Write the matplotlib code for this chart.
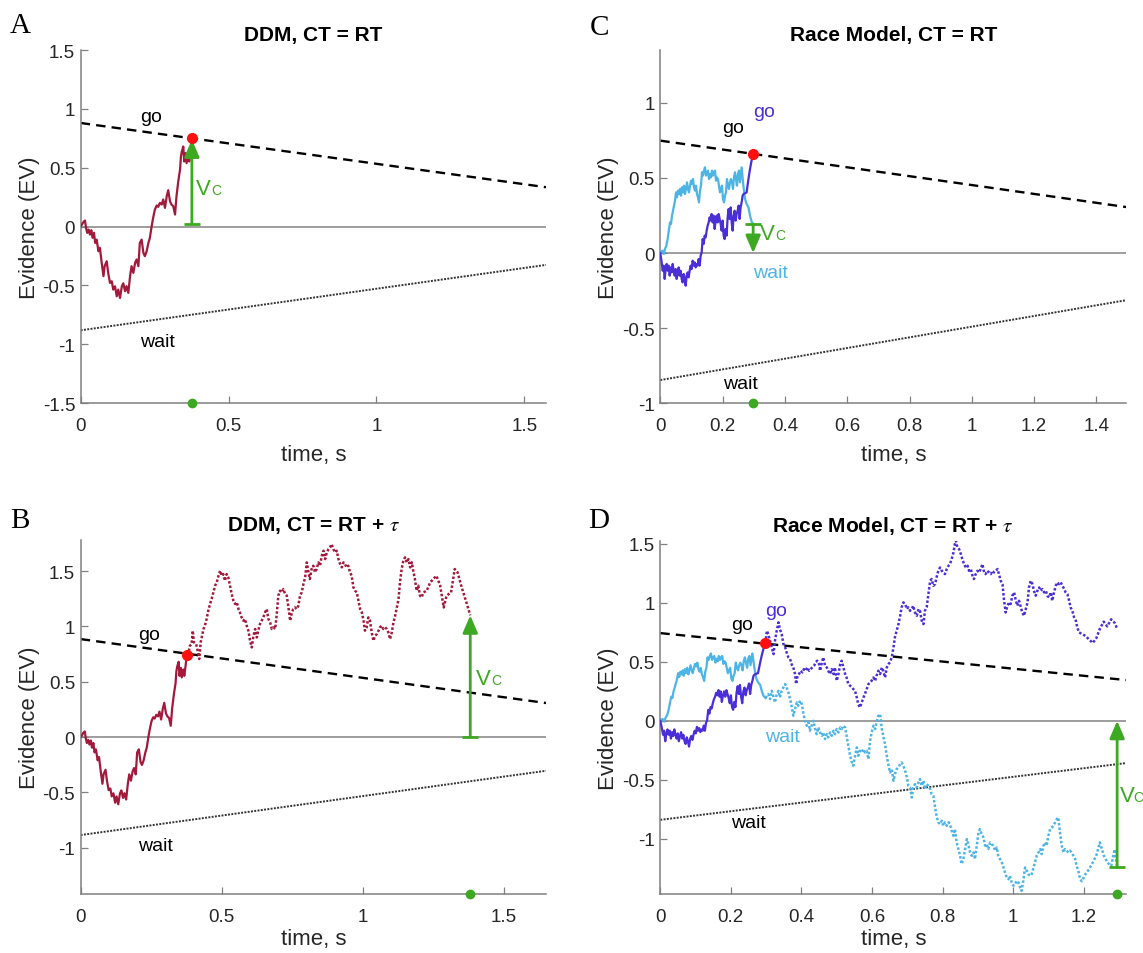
import numpy as np
import matplotlib
matplotlib.use('Agg')
import matplotlib.pyplot as plt

plt.rcParams['font.family'] = ['Liberation Sans', 'DejaVu Sans']
plt.rcParams['mathtext.fontset'] = 'stix'

# ---- data (time s, evidence) ----
# DDM accumulator up to the go crossing (shared by A and B)
ddm_pts = [(0, 0), (0.009, 0.037), (0.0145, 0.051), (0.018, -0.011), (0.022, -0.054), (0.027, -0.026),
           (0.031, -0.068), (0.036, -0.031), (0.040, -0.096), (0.045, -0.054), (0.049, -0.139), (0.054, -0.111),
           (0.060, -0.210), (0.065, -0.181), (0.071, -0.309), (0.077, -0.422), (0.081, -0.337), (0.088, -0.295),
           (0.093, -0.394), (0.099, -0.479), (0.105, -0.465), (0.110, -0.536), (0.116, -0.508), (0.122, -0.593),
           (0.127, -0.536), (0.133, -0.607), (0.139, -0.510), (0.144, -0.482), (0.150, -0.550), (0.155, -0.507),
           (0.161, -0.564), (0.167, -0.422), (0.172, -0.337), (0.178, -0.394), (0.184, -0.309), (0.189, -0.280),
           (0.195, -0.337), (0.200, -0.139), (0.206, -0.111), (0.212, -0.224), (0.217, -0.252), (0.223, -0.210),
           (0.229, -0.139), (0.234, -0.096), (0.240, 0.003), (0.245, 0.074), (0.251, 0.145), (0.257, 0.179),
           (0.262, 0.167), (0.268, 0.201), (0.274, 0.187), (0.279, 0.230), (0.285, 0.159), (0.291, 0.258),
           (0.296, 0.309), (0.302, 0.215), (0.307, 0.187), (0.313, 0.173), (0.319, 0.102), (0.324, 0.258),
           (0.330, 0.385), (0.336, 0.485), (0.339, 0.595), (0.342, 0.638), (0.347, 0.680), (0.350, 0.553),
           (0.355, 0.624), (0.358, 0.539), (0.364, 0.610), (0.367, 0.553), (0.372, 0.652), (0.376, 0.750)]

# DDM accumulator after the crossing, until commitment (B, dotted)
ddm_tau_pts = [(0.381, 0.750), (0.387, 0.825), (0.393, 0.840), (0.397, 0.961), (0.401, 0.855), (0.409, 0.840),
               (0.413, 0.795), (0.420, 0.705), (0.425, 0.855), (0.430, 0.915), (0.435, 0.976), (0.440, 1.006),
               (0.446, 1.066), (0.452, 1.141), (0.458, 1.202), (0.464, 1.247), (0.470, 1.307), (0.476, 1.367),
               (0.482, 1.397), (0.488, 1.457), (0.494, 1.503), (0.500, 1.457), (0.505, 1.472), (0.511, 1.412),
               (0.517, 1.472), (0.523, 1.442), (0.529, 1.367), (0.535, 1.292), (0.541, 1.232), (0.547, 1.202),
               (0.553, 1.217), (0.559, 1.156), (0.564, 1.126), (0.570, 1.081), (0.576, 1.051), (0.582, 1.066),
               (0.588, 1.006), (0.594, 0.961), (0.600, 0.870), (0.606, 0.810), (0.612, 0.915), (0.618, 0.976),
               (0.624, 0.900), (0.629, 0.961), (0.635, 1.021), (0.641, 1.051), (0.647, 1.081), (0.653, 1.126),
               (0.659, 1.156), (0.665, 1.066), (0.671, 1.036), (0.677, 0.976), (0.683, 0.991), (0.689, 0.976),
               (0.694, 1.096), (0.700, 1.277), (0.706, 1.322), (0.712, 1.307), (0.718, 1.337), (0.724, 1.292),
               (0.730, 1.277), (0.736, 1.171), (0.742, 1.051), (0.748, 1.126), (0.753, 1.156), (0.759, 1.171),
               (0.765, 1.156), (0.771, 1.186), (0.777, 1.277), (0.783, 1.307), (0.789, 1.382), (0.795, 1.442),
               (0.801, 1.578), (0.807, 1.488), (0.812, 1.427), (0.818, 1.518), (0.824, 1.548), (0.830, 1.488),
               (0.836, 1.518), (0.842, 1.578), (0.848, 1.548), (0.854, 1.638), (0.860, 1.683), (0.866, 1.608),
               (0.872, 1.668), (0.878, 1.698), (0.883, 1.713), (0.889, 1.743), (0.895, 1.698), (0.901, 1.668),
               (0.907, 1.683), (0.913, 1.608), (0.919, 1.563), (0.925, 1.533), (0.931, 1.578), (0.936, 1.563),
               (0.942, 1.533), (0.948, 1.548), (0.954, 1.488), (0.960, 1.457), (0.966, 1.352), (0.972, 1.322),
               (0.978, 1.307), (0.984, 1.232), (0.990, 1.156), (0.996, 1.126), (1.002, 1.051), (1.007, 0.961),
               (1.013, 0.991), (1.019, 1.081), (1.025, 1.051), (1.031, 0.945), (1.037, 0.870), (1.043, 0.915),
               (1.049, 0.930), (1.055, 0.961), (1.060, 0.991), (1.066, 1.006), (1.072, 0.976), (1.078, 0.991),
               (1.084, 0.976), (1.090, 0.945), (1.096, 0.885), (1.102, 0.945), (1.108, 1.036), (1.114, 1.096),
               (1.120, 1.171), (1.126, 1.247), (1.131, 1.397), (1.137, 1.518), (1.143, 1.593), (1.149, 1.623),
               (1.155, 1.578), (1.161, 1.608), (1.167, 1.533), (1.173, 1.578), (1.179, 1.488), (1.184, 1.427),
               (1.190, 1.322), (1.196, 1.367), (1.202, 1.277), (1.208, 1.262), (1.214, 1.307), (1.226, 1.322),
               (1.238, 1.397), (1.260, 1.457), (1.273, 1.373), (1.286, 1.171), (1.296, 1.277), (1.312, 1.307),
               (1.325, 1.518), (1.335, 1.488), (1.348, 1.367), (1.361, 1.262), (1.370, 1.186), (1.380, 1.100)]

# race model: go and wait accumulators up to the go crossing (shared by C and D)
race_go_pts = [(0, 0), (0.0044, -0.062), (0.0076, -0.118), (0.0108, -0.084), (0.014, -0.173), (0.0172, -0.107),
               (0.0204, -0.073), (0.0236, -0.118), (0.0268, -0.084), (0.0301, -0.151), (0.0333, -0.096),
               (0.0365, -0.129), (0.0397, -0.073), (0.0429, -0.118), (0.0461, -0.151), (0.0493, -0.107),
               (0.0525, -0.173), (0.0557, -0.129), (0.0589, -0.096), (0.0621, -0.151), (0.0653, -0.118),
               (0.0686, -0.173), (0.0718, -0.196), (0.075, -0.14), (0.0782, -0.173), (0.0814, -0.218),
               (0.0846, -0.151), (0.0878, -0.129), (0.091, -0.162), (0.0942, -0.118), (0.0974, -0.084),
               (0.1006, -0.107), (0.1038, -0.051), (0.1071, -0.084), (0.1103, -0.062), (0.1135, -0.096),
               (0.1167, -0.073), (0.1199, -0.084), (0.1231, -0.04), (0.1263, -0.084), (0.1295, -0.018),
               (0.1327, 0.004), (0.1359, 0.093), (0.1391, 0.06), (0.1423, 0.116), (0.1456, 0.104), (0.1488, 0.149),
               (0.152, 0.182), (0.1552, 0.204), (0.1584, 0.238), (0.1616, 0.216), (0.1648, 0.26), (0.168, 0.204),
               (0.1712, 0.249), (0.1744, 0.16), (0.1776, 0.216), (0.1808, 0.249), (0.1841, 0.204), (0.1873, 0.26),
               (0.1905, 0.227), (0.1937, 0.193), (0.1969, 0.149), (0.2001, 0.216), (0.2033, 0.116), (0.2065, 0.093),
               (0.2097, 0.16), (0.2129, 0.116), (0.2161, 0.238), (0.2193, 0.293), (0.2226, 0.227), (0.2258, 0.304),
               (0.229, 0.204), (0.2322, 0.149), (0.2354, 0.249), (0.2386, 0.282), (0.2418, 0.216), (0.245, 0.26),
               (0.2482, 0.282), (0.2514, 0.316), (0.2546, 0.227), (0.2578, 0.304), (0.2611, 0.338), (0.2643, 0.382),
               (0.2675, 0.393), (0.277, 0.404), (0.283, 0.493), (0.288, 0.56), (0.293, 0.616), (0.298, 0.658)]

race_wait_pts = [(0, 0), (0.0065, 0.016), (0.0108, -0.007), (0.0151, 0.027), (0.0194, 0.049), (0.0236, 0.093),
                 (0.0279, 0.160), (0.0311, 0.204), (0.0343, 0.193), (0.0375, 0.249), (0.0408, 0.282),
                 (0.044, 0.316), (0.0472, 0.349), (0.0504, 0.404), (0.0536, 0.371), (0.0568, 0.416), (0.06, 0.393),
                 (0.0632, 0.427), (0.0664, 0.382), (0.0696, 0.438), (0.0728, 0.404), (0.0761, 0.449),
                 (0.0793, 0.393), (0.0825, 0.427), (0.0857, 0.471), (0.0889, 0.427), (0.0921, 0.404),
                 (0.0953, 0.449), (0.0985, 0.482), (0.1017, 0.460), (0.1049, 0.493), (0.1081, 0.438),
                 (0.1113, 0.416), (0.1145, 0.449), (0.1178, 0.393), (0.121, 0.371), (0.1242, 0.338), (0.1274, 0.416),
                 (0.1306, 0.449), (0.1338, 0.538), (0.137, 0.516), (0.1402, 0.549), (0.1434, 0.571), (0.1466, 0.516),
                 (0.1498, 0.538), (0.153, 0.549), (0.1563, 0.493), (0.1595, 0.527), (0.1627, 0.504), (0.1659, 0.549),
                 (0.1691, 0.516), (0.1723, 0.538), (0.1755, 0.549), (0.1787, 0.482), (0.1819, 0.504),
                 (0.1851, 0.493), (0.1883, 0.449), (0.1915, 0.404), (0.1948, 0.427), (0.198, 0.449), (0.2012, 0.360),
                 (0.2044, 0.338), (0.2076, 0.382), (0.2108, 0.404), (0.214, 0.493), (0.2172, 0.449), (0.2204, 0.427),
                 (0.2236, 0.471), (0.2268, 0.493), (0.23, 0.471), (0.2333, 0.427), (0.2365, 0.504), (0.2397, 0.538),
                 (0.2429, 0.493), (0.2461, 0.449), (0.2493, 0.527), (0.2525, 0.549), (0.2557, 0.471), (0.261, 0.571),
                 (0.2667, 0.449), (0.272, 0.360), (0.277, 0.327), (0.283, 0.304), (0.288, 0.249), (0.293, 0.210),
                 (0.298, 0.193)]

# race model after the crossing (D, dotted)
race_go_tau_pts = [(0.302, 0.763), (0.306, 0.735), (0.311, 0.678), (0.316, 0.622), (0.321, 0.565), (0.325, 0.678),
                   (0.330, 0.763), (0.335, 0.834), (0.339, 0.777), (0.344, 0.735), (0.349, 0.650), (0.354, 0.622),
                   (0.358, 0.579), (0.363, 0.537), (0.368, 0.523), (0.372, 0.481), (0.377, 0.452), (0.382, 0.396),
                   (0.385, 0.311), (0.389, 0.382), (0.393, 0.396), (0.398, 0.424), (0.403, 0.410), (0.407, 0.438),
                   (0.412, 0.424), (0.417, 0.452), (0.422, 0.424), (0.426, 0.438), (0.431, 0.452), (0.436, 0.466),
                   (0.440, 0.495), (0.445, 0.509), (0.450, 0.481), (0.453, 0.424), (0.458, 0.495), (0.462, 0.537),
                   (0.467, 0.466), (0.472, 0.452), (0.476, 0.424), (0.481, 0.396), (0.486, 0.438), (0.491, 0.396),
                   (0.495, 0.452), (0.500, 0.339), (0.505, 0.396), (0.510, 0.481), (0.514, 0.509), (0.519, 0.452),
                   (0.524, 0.396), (0.528, 0.367), (0.533, 0.311), (0.538, 0.297), (0.543, 0.283), (0.547, 0.269),
                   (0.552, 0.254), (0.557, 0.198), (0.561, 0.141), (0.566, 0.113), (0.571, 0.155), (0.576, 0.198),
                   (0.580, 0.226), (0.585, 0.269), (0.590, 0.311), (0.594, 0.325), (0.599, 0.339), (0.604, 0.367),
                   (0.609, 0.339), (0.613, 0.382), (0.618, 0.424), (0.623, 0.396), (0.628, 0.452), (0.632, 0.424),
                   (0.637, 0.367), (0.642, 0.452), (0.647, 0.481), (0.651, 0.495), (0.656, 0.537), (0.661, 0.622),
                   (0.665, 0.707), (0.670, 0.763), (0.675, 0.819), (0.680, 0.890), (0.684, 0.961), (0.689, 1.003),
                   (0.694, 0.989), (0.699, 0.947), (0.703, 0.961), (0.708, 0.932), (0.713, 0.947), (0.717, 0.975),
                   (0.722, 0.918), (0.727, 0.890), (0.732, 0.947), (0.736, 0.932), (0.741, 0.848), (0.746, 0.819),
                   (0.750, 0.932), (0.755, 0.961), (0.760, 1.074), (0.765, 1.187), (0.769, 1.201), (0.774, 1.144),
                   (0.779, 1.158), (0.783, 1.215), (0.788, 1.271), (0.793, 1.299), (0.798, 1.271), (0.802, 1.257),
                   (0.807, 1.243), (0.812, 1.286), (0.817, 1.314), (0.821, 1.328), (0.826, 1.370), (0.831, 1.427),
                   (0.835, 1.497), (0.838, 1.526), (0.842, 1.469), (0.847, 1.455), (0.852, 1.413), (0.856, 1.370),
                   (0.861, 1.328), (0.866, 1.299), (0.871, 1.314), (0.875, 1.271), (0.880, 1.286), (0.885, 1.229),
                   (0.889, 1.201), (0.894, 1.243), (0.899, 1.271), (0.904, 1.257), (0.908, 1.286), (0.913, 1.328),
                   (0.918, 1.257), (0.922, 1.243), (0.927, 1.271), (0.932, 1.257), (0.937, 1.243), (0.941, 1.271),
                   (0.946, 1.257), (0.951, 1.271), (0.956, 1.286), (0.960, 1.243), (0.965, 1.187), (0.970, 1.158),
                   (0.974, 1.031), (0.979, 0.918), (0.984, 0.975), (0.989, 1.003), (0.993, 0.989), (0.998, 1.060),
                   (1.003, 1.088), (1.007, 1.031), (1.012, 0.975), (1.017, 1.017), (1.022, 0.961), (1.026, 0.918),
                   (1.031, 0.890), (1.036, 0.947), (1.041, 1.003), (1.045, 1.130), (1.050, 1.187), (1.055, 1.158),
                   (1.059, 1.102), (1.064, 1.060), (1.069, 1.102), (1.074, 1.130), (1.078, 1.102), (1.083, 1.116),
                   (1.088, 1.088), (1.093, 1.102), (1.097, 1.060), (1.102, 1.045), (1.107, 1.088), (1.111, 1.017),
                   (1.116, 1.088), (1.121, 1.144), (1.126, 1.173), (1.130, 1.158), (1.135, 1.173), (1.140, 1.144),
                   (1.145, 1.116), (1.149, 1.088), (1.154, 1.074), (1.159, 1.017), (1.163, 0.961), (1.168, 0.932),
                   (1.173, 0.876), (1.178, 0.848), (1.182, 0.791), (1.187, 0.749), (1.205, 0.720), (1.215, 0.690),
                   (1.226, 0.660), (1.236, 0.700), (1.246, 0.780), (1.257, 0.840), (1.267, 0.800), (1.278, 0.860),
                   (1.288, 0.830), (1.295, 0.780)]

race_wait_tau_pts = [(0.306, 0.226), (0.311, 0.184), (0.316, 0.254), (0.321, 0.198), (0.325, 0.156), (0.330, 0.226),
                     (0.335, 0.254), (0.339, 0.198), (0.344, 0.254), (0.349, 0.283), (0.354, 0.311), (0.358, 0.283),
                     (0.363, 0.240), (0.368, 0.184), (0.372, 0.127), (0.377, 0.043), (0.382, 0.099), (0.387, 0.156),
                     (0.391, 0.127), (0.396, 0.170), (0.401, 0.142), (0.405, 0.071), (0.410, 0.0), (0.415, -0.042),
                     (0.420, -0.014), (0.424, -0.084), (0.429, -0.042), (0.434, 0.0), (0.439, -0.070), (0.443, -0.113),
                     (0.448, -0.056), (0.453, -0.099), (0.458, -0.127), (0.462, -0.099), (0.467, -0.155),
                     (0.472, -0.113), (0.476, -0.141), (0.481, -0.099), (0.486, -0.127), (0.491, -0.084),
                     (0.495, -0.113), (0.500, -0.070), (0.505, -0.099), (0.510, -0.056), (0.514, -0.070),
                     (0.519, -0.042), (0.524, -0.056), (0.528, -0.127), (0.533, -0.212), (0.538, -0.296),
                     (0.543, -0.353), (0.547, -0.381), (0.552, -0.296), (0.557, -0.226), (0.561, -0.296),
                     (0.566, -0.254), (0.571, -0.268), (0.576, -0.240), (0.580, -0.268), (0.585, -0.254),
                     (0.590, -0.325), (0.594, -0.184), (0.599, -0.099), (0.604, -0.042), (0.609, -0.070),
                     (0.613, -0.014), (0.618, 0.043), (0.623, 0.057), (0.628, -0.070), (0.632, -0.127),
                     (0.637, -0.198), (0.642, -0.296), (0.647, -0.381), (0.651, -0.438), (0.656, -0.409),
                     (0.661, -0.508), (0.665, -0.452), (0.670, -0.409), (0.675, -0.395), (0.680, -0.367),
                     (0.684, -0.353), (0.689, -0.381), (0.694, -0.424), (0.699, -0.480), (0.703, -0.551),
                     (0.708, -0.565), (0.713, -0.650), (0.717, -0.565), (0.722, -0.537), (0.727, -0.565),
                     (0.732, -0.522), (0.736, -0.494), (0.741, -0.551), (0.746, -0.508), (0.750, -0.579),
                     (0.755, -0.537), (0.760, -0.551), (0.765, -0.579), (0.769, -0.621), (0.774, -0.636),
                     (0.779, -0.734), (0.783, -0.805), (0.788, -0.861), (0.793, -0.875), (0.798, -0.847),
                     (0.802, -0.890), (0.807, -0.861), (0.812, -0.890), (0.817, -0.861), (0.821, -0.875),
                     (0.826, -0.932), (0.831, -0.974), (0.835, -0.918), (0.840, -1.031), (0.845, -1.087),
                     (0.850, -1.144), (0.854, -1.214), (0.859, -1.172), (0.864, -1.087), (0.869, -1.003),
                     (0.873, -1.045), (0.878, -1.116), (0.883, -1.144), (0.888, -1.116), (0.892, -1.172),
                     (0.897, -1.059), (0.902, -0.946), (0.906, -0.918), (0.911, -0.960), (0.916, -0.988),
                     (0.921, -1.059), (0.925, -1.045), (0.930, -1.087), (0.935, -1.031), (0.939, -1.045),
                     (0.944, -1.059), (0.949, -1.101), (0.954, -1.073), (0.958, -1.144), (0.963, -1.172),
                     (0.968, -1.200), (0.973, -1.243), (0.977, -1.285), (0.982, -1.328), (0.987, -1.342),
                     (0.991, -1.314), (0.996, -1.370), (1.001, -1.398), (1.006, -1.384), (1.010, -1.356),
                     (1.015, -1.370), (1.020, -1.412), (1.024, -1.441), (1.029, -1.356), (1.034, -1.243),
                     (1.039, -1.271), (1.043, -1.299), (1.048, -1.314), (1.053, -1.299), (1.058, -1.243),
                     (1.062, -1.200), (1.067, -1.144), (1.072, -1.116), (1.077, -1.087), (1.081, -1.130),
                     (1.086, -1.059), (1.091, -1.031), (1.095, -1.059), (1.100, -0.974), (1.105, -0.918),
                     (1.110, -0.904), (1.114, -0.890), (1.119, -0.861), (1.124, -0.833), (1.128, -0.819),
                     (1.133, -0.946), (1.138, -1.059), (1.143, -1.116), (1.147, -1.087), (1.152, -1.101),
                     (1.157, -1.116), (1.161, -1.101), (1.166, -1.116), (1.171, -1.144), (1.176, -1.172),
                     (1.180, -1.229), (1.185, -1.271), (1.190, -1.342), (1.195, -1.360), (1.205, -1.300),
                     (1.215, -1.260), (1.226, -1.200), (1.236, -1.140), (1.246, -1.030), (1.257, -1.140),
                     (1.267, -1.200), (1.278, -1.230), (1.288, -1.090), (1.295, -1.240)]

# bounds: (t_start, t_end), go (start, end), wait (start, end)
bound_A = dict(t=[0, 1.574], go=[0.88, 0.334], wait=[-0.882, -0.326])
bound_B = dict(t=[0, 1.65], go=[0.885, 0.307], wait=[-0.885, -0.304])
bound_C = dict(t=[0, 1.5], go=[0.749, 0.305], wait=[-0.847, -0.313])
bound_D = dict(t=[0, 1.321], go=[0.743, 0.345], wait=[-0.839, -0.358])

# crossing times / commitment times
rt_ddm, ct_ddm = 0.376, 1.38
rt_race, ct_race = 0.298, 1.295

ddm_t, ddm_y = np.array(ddm_pts).T
ddm_tau_t, ddm_tau_y = np.array(ddm_tau_pts).T
go_t, go_y = np.array(race_go_pts).T
wait_t, wait_y = np.array(race_wait_pts).T
go_tau_t, go_tau_y = np.array(race_go_tau_pts).T
wait_tau_t, wait_tau_y = np.array(race_wait_tau_pts).T

c_ddm = '#A3193B'
c_go = '#4A2FD6'
c_wait = '#4DB5E6'
c_green = '#3DA821'
c_red = '#FF1010'
c_axis = '#808080'
c_text = '#262626'


def style_axes(ax, xlim, ylim, xt, xtl, yt, ytl, title, bottom_row=False):
    ax.set_xlim(xlim)
    ax.set_ylim(ylim)
    for s in ['top', 'right']:
        ax.spines[s].set_visible(False)
    for s in ['left', 'bottom']:
        ax.spines[s].set_color(c_axis)
        ax.spines[s].set_linewidth(1.1)
    ax.set_xticks(xt)
    ax.set_xticklabels(xtl)
    ax.set_yticks(yt)
    ax.set_yticklabels(ytl)
    ax.tick_params(direction='in', length=5, width=0.9, color=c_axis, labelsize=13.5, labelcolor=c_text)
    ax.tick_params(axis='x', pad=10)
    ax.tick_params(axis='y', pad=4)
    # bottom row: label sits at the very edge of the page, keep it inside
    ax.set_xlabel('time, s', fontsize=16, color=c_text, labelpad=2 if bottom_row else 7)
    ax.set_ylabel('Evidence (EV)', fontsize=16, color=c_text, labelpad=2)
    ax.set_title(title, fontsize=15, fontweight='bold', pad=7)
    ax.axhline(0, color='#8c8c8c', lw=1.2, zorder=1)


def draw_bounds(ax, b):
    ax.plot(b['t'], b['go'], color='k', lw=1.7, ls=(0, (4, 2.6)), zorder=2)
    ax.plot(b['t'], b['wait'], color='#333333', lw=1.4, ls=(0, (1, 0.7)), zorder=2)


def vc_arrow(ax, x, y_from, y_to):
    ax.annotate('', xy=(x, y_to), xytext=(x, y_from),
                arrowprops=dict(arrowstyle='-|>,head_length=0.7,head_width=0.3', color=c_green,
                                lw=2, mutation_scale=15, shrinkA=0, shrinkB=0), zorder=4)
    ax.plot([x], [y_from], marker='_', ms=12, mew=2, color=c_green, zorder=4)


def vc_label(ax, x, y, gap=11):
    ax.text(x, y, 'V', color=c_green, fontsize=16, va='baseline')
    ax.annotate('C', xy=(x, y), xytext=(gap, 0), textcoords='offset points',
                color=c_green, fontsize=10, va='baseline')


def markers(ax, rt, y_cross, ct, y_floor):
    ax.plot([rt], [y_cross], 'o', color=c_red, ms=7, zorder=6)
    ax.plot([ct], [y_floor], 'o', color=c_green, ms=6, zorder=6, clip_on=False)


fig = plt.figure(figsize=(11.43, 9.54), dpi=100)
axA = fig.add_axes([0.0706, 0.5765, 0.4072, 0.3700])
axC = fig.add_axes([0.5777, 0.5765, 0.4077, 0.3700])
axB = fig.add_axes([0.0706, 0.0618, 0.4075, 0.3711])
axD = fig.add_axes([0.5777, 0.0618, 0.4077, 0.3700])

# ---- A: DDM, CT = RT ----
style_axes(axA, (0, 1.574), (-1.5, 1.5), [0, 0.5, 1, 1.5], ['0', '0.5', '1', '1.5'],
           [-1.5, -1, -0.5, 0, 0.5, 1, 1.5], ['-1.5', '-1', '-0.5', '0', '0.5', '1', '1.5'],
           'DDM, CT = RT')
draw_bounds(axA, bound_A)
axA.plot(ddm_t, ddm_y, color=c_ddm, lw=1.6, zorder=3)
vc_arrow(axA, rt_ddm, 0.02, ddm_y[-1] - 0.01)
vc_label(axA, 0.39, 0.275)
markers(axA, rt_ddm, ddm_y[-1], rt_ddm, -1.5)
axA.text(0.20, 0.895, 'go', fontsize=14, va='baseline')
axA.text(0.20, -1.018, 'wait', fontsize=14, va='baseline')

# ---- B: DDM, CT = RT + tau ----
style_axes(axB, (0, 1.65), (-1.418, 1.78), [0, 0.5, 1, 1.5], ['0', '0.5', '1', '1.5'],
           [-1, -0.5, 0, 0.5, 1, 1.5], ['-1', '-0.5', '0', '0.5', '1', '1.5'],
           r'DDM, CT = RT + $\tau$', bottom_row=True)
draw_bounds(axB, bound_B)
axB.plot(ddm_t, ddm_y, color=c_ddm, lw=1.6, zorder=3)
axB.plot(np.r_[ddm_t[-1], ddm_tau_t], np.r_[ddm_y[-1], ddm_tau_y], color=c_ddm, lw=1.8,
         ls=(0, (1, 0.8)), zorder=3)
vc_arrow(axB, ct_ddm, 0.0, ddm_tau_y[-1])
vc_label(axB, 1.40, 0.48)
markers(axB, rt_ddm, ddm_y[-1] - 0.01, ct_ddm, -1.418)
axB.text(0.203, 0.885, 'go', fontsize=14, va='baseline')
axB.text(0.203, -1.018, 'wait', fontsize=14, va='baseline')

# ---- C: Race Model, CT = RT ----
style_axes(axC, (0, 1.496), (-1, 1.353), [0, 0.2, 0.4, 0.6, 0.8, 1, 1.2, 1.4],
           ['0', '0.2', '0.4', '0.6', '0.8', '1', '1.2', '1.4'],
           [-1, -0.5, 0, 0.5, 1], ['-1', '-0.5', '0', '0.5', '1'],
           'Race Model, CT = RT')
draw_bounds(axC, bound_C)
axC.plot(wait_t, wait_y, color=c_wait, lw=1.6, zorder=3)
axC.plot(go_t, go_y, color=c_go, lw=1.6, zorder=3)
vc_arrow(axC, rt_race, wait_y[-1], 0.0)
vc_label(axC, 0.32, 0.093)
markers(axC, rt_race, go_y[-1], rt_race, -1)
axC.text(0.20, 0.807, 'go', fontsize=14, va='baseline')
axC.text(0.297, 0.915, 'go', fontsize=14, va='baseline', color=c_go)
axC.text(0.297, -0.16, 'wait', fontsize=14, va='baseline', color=c_wait)
axC.text(0.20, -0.90, 'wait', fontsize=14, va='baseline')

# ---- D: Race Model, CT = RT + tau ----
style_axes(axD, (0, 1.321), (-1.468, 1.523), [0, 0.2, 0.4, 0.6, 0.8, 1, 1.2],
           ['0', '0.2', '0.4', '0.6', '0.8', '1', '1.2'],
           [-1, -0.5, 0, 0.5, 1, 1.5], ['-1', '-0.5', '0', '0.5', '1', '1.5'],
           r'Race Model, CT = RT + $\tau$', bottom_row=True)
draw_bounds(axD, bound_D)
axD.plot(wait_t, wait_y, color=c_wait, lw=1.6, zorder=3)
axD.plot(go_t, go_y, color=c_go, lw=1.6, zorder=3)
axD.plot(np.r_[wait_t[-1], wait_tau_t], np.r_[wait_y[-1], wait_tau_y], color=c_wait, lw=1.8,
         ls=(0, (1, 0.8)), zorder=3)
axD.plot(np.r_[go_t[-1], go_tau_t], np.r_[go_y[-1], go_tau_y], color=c_go, lw=1.8,
         ls=(0, (1, 0.8)), zorder=3)
vc_arrow(axD, ct_race, wait_tau_y[-1], 0.0)
vc_label(axD, 1.302, -0.68, gap=9.5)
markers(axD, rt_race, go_y[-1], ct_race, -1.468)
axD.text(0.20, 0.777, 'go', fontsize=14, va='baseline')
axD.text(0.298, 0.896, 'go', fontsize=14, va='baseline', color=c_go)
axD.text(0.298, -0.17, 'wait', fontsize=14, va='baseline', color=c_wait)
axD.text(0.20, -0.90, 'wait', fontsize=14, va='baseline')

# panel letters
for lab, x, y in [('A', 0.0087, 0.9654), ('C', 0.516, 0.9633), ('B', 0.0087, 0.4465), ('D', 0.5144, 0.4465)]:
    fig.text(x, y, lab, fontsize=21, family='Liberation Serif', va='baseline')

fig.savefig('out.png', dpi=100)
